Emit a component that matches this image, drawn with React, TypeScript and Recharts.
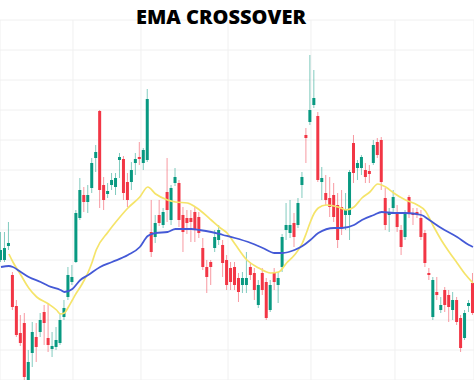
import React from 'react';
import { ComposedChart, Bar, Line, XAxis, YAxis, CartesianGrid } from 'recharts';

// Candle prices (one entry per trading session)
const opens = [
  140, 140, 154, 125, 94, 67, 77, 20, 47, 63, 68, 88, 62, 51, 53, 57, 83, 103, 118, 138,
  182, 205, 198, 212, 242, 289, 215, 206, 215, 213, 240, 241, 218, 218, 237, 243, 237, 240, 168, 163,
  185, 175, 208, 180, 217, 217, 185, 182, 182, 188, 183, 152, 133, 138, 152, 160, 155, 140, 132, 133,
  122, 115, 115, 133, 127, 95, 127, 118, 90, 127, 115, 133, 170, 167, 177, 175, 215, 265, 278, 295,
  284, 218, 207, 202, 205, 195, 193, 185, 185, 257, 232, 232, 230, 229, 237, 258, 260, 202, 185, 192,
  187, 170, 163, 203, 187, 188, 182, 167, 127, 83, 108, 90, 110, 105, 90, 100, 82, 62, 94, 117,
];
const closes = [
  150, 152, 157, 93, 65, 57, 23, 38, 68, 53, 80, 77, 55, 54, 60, 80, 92, 125, 123, 187,
  210, 198, 205, 237, 248, 210, 200, 209, 220, 222, 243, 207, 200, 230, 241, 241, 250, 301, 148, 177,
  177, 188, 190, 212, 223, 180, 168, 177, 178, 170, 167, 133, 123, 133, 163, 170, 137, 115, 118, 115,
  108, 122, 122, 125, 110, 115, 110, 82, 115, 118, 122, 163, 175, 175, 163, 197, 223, 262, 290, 302,
  220, 222, 200, 193, 183, 160, 172, 190, 228, 227, 237, 243, 223, 226, 255, 245, 218, 175, 188, 203,
  173, 153, 187, 187, 185, 185, 163, 137, 125, 120, 105, 95, 95, 93, 100, 78, 52, 87, 97, 87,
];
const highs = [
  168, 168, 178, 128, 100, 85, 87, 50, 78, 77, 87, 95, 97, 68, 73, 87, 100, 133, 135, 190,
  222, 213, 215, 242, 255, 290, 223, 217, 227, 227, 247, 244, 227, 238, 247, 258, 252, 311, 200, 185,
  200, 192, 242, 215, 232, 220, 193, 190, 190, 193, 188, 162, 140, 140, 170, 175, 160, 145, 138, 138,
  127, 128, 148, 138, 132, 120, 132, 122, 120, 132, 128, 166, 197, 200, 187, 202, 228, 272, 345, 330,
  288, 233, 225, 223, 217, 207, 210, 207, 230, 265, 240, 245, 237, 235, 260, 262, 263, 212, 192, 210,
  195, 175, 190, 205, 192, 192, 190, 170, 132, 123, 123, 103, 113, 110, 108, 103, 85, 90, 100, 127,
];
const lows = [
  138, 138, 150, 90, 63, 54, 20, 18, 33, 38, 63, 55, 48, 43, 50, 55, 80, 100, 115, 137,
  180, 188, 187, 207, 228, 192, 190, 202, 210, 205, 222, 200, 193, 210, 225, 235, 230, 238, 143, 157,
  174, 172, 178, 175, 214, 173, 148, 166, 158, 158, 162, 130, 107, 115, 148, 155, 123, 110, 110, 110,
  98, 107, 107, 120, 100, 92, 105, 80, 88, 110, 97, 128, 160, 162, 153, 172, 202, 237, 275, 292,
  218, 200, 195, 183, 178, 152, 165, 170, 160, 217, 220, 225, 217, 217, 235, 242, 210, 170, 168, 188,
  168, 145, 160, 182, 175, 182, 160, 133, 120, 80, 100, 87, 88, 78, 80, 75, 48, 60, 88, 85,
];

// Fast EMA (yellow) and slow EMA (blue), read at [session, value]
const emaFast: [number, number][] = [
  [2, 146], [3, 138], [5, 125], [7, 112], [9, 103], [12, 96], [14, 90], [15, 86], [16, 87], [17, 93],
  [18, 100], [19, 107], [20, 113], [21, 120], [22, 128], [23, 138], [24, 150], [27, 168], [30, 183],
  [32, 192], [35, 203], [37, 213], [39, 206], [42, 200], [44, 198], [47, 197], [49, 193], [51, 187],
  [53, 180], [55, 173], [57, 167], [59, 156], [62, 140], [65, 132], [68, 127], [70, 128], [72, 137],
  [74, 145], [76, 157], [77, 167], [78, 178], [79, 187], [80, 192], [82, 195], [85, 193], [87, 190],
  [89, 193], [91, 202], [93, 208], [95, 216], [97, 213], [99, 207], [102, 200], [105, 195], [107, 189],
  [109, 174], [111, 160], [113, 148], [115, 137], [117, 126], [119, 117],
];
const emaSlow: [number, number][] = [
  [0, 133], [2, 134], [3, 133], [5, 128], [7, 123], [10, 118], [12, 114], [15, 110], [16, 108], [18, 111],
  [20, 120], [22, 125], [25, 133], [28, 138], [32, 145], [35, 153], [37, 164], [39, 167], [42, 168],
  [44, 171], [48, 171], [50, 170], [53, 168], [56, 165], [59, 162], [63, 157], [66, 152], [69, 147],
  [71, 147], [74, 150], [76, 154], [78, 160], [80, 167], [84, 172], [86, 172], [89, 175], [91, 180],
  [94, 185], [96, 188], [99, 187], [102, 187], [106, 185], [108, 180], [111, 172], [115, 163], [118, 155],
  [119, 153],
];

const gridSessions = [18.15, 35.3, 57.24, 78.16, 99.34];
const gridPrices = [50, 80, 110, 140, 170, 200, 230, 260, 290, 320, 350];

const COLORS = {
  up: '#089981',
  down: '#f23645',
  fast: '#f5e46a',
  slow: '#4459d6',
  grid: '#f0f0f0',
};

const fastMap = new Map(emaFast);
const slowMap = new Map(emaSlow);

const data = opens.map((open, i) => ({
  i,
  open,
  close: closes[i],
  high: highs[i],
  low: lows[i],
  range: [lows[i], highs[i]],
  fast: fastMap.has(i) ? fastMap.get(i) : null,
  slow: slowMap.has(i) ? slowMap.get(i) : null,
}));

function Candle(props: any) {
  const { x, y, width, height, payload } = props;
  if (!payload || x == null) return null;
  const { open, close, high, low } = payload;
  const color = close >= open ? COLORS.up : COLORS.down;
  const h = Math.abs(height);
  const top = height < 0 ? y + height : y;
  const ratio = h / (high - low || 1);
  const bodyTop = top + (high - Math.max(open, close)) * ratio;
  const bodyH = Math.max(Math.abs(open - close) * ratio, 1.2);
  const cx = x + width / 2;
  return (
    <g>
      <line x1={cx} x2={cx} y1={top} y2={top + h} stroke={color} strokeOpacity={0.5} strokeWidth={1} />
      <rect x={x} y={bodyTop} width={width} height={bodyH} fill={color} />
    </g>
  );
}

export default function App() {
  return (
    <div style={{ position: 'absolute', left: 0, top: 0, width: 474, height: 380, background: '#fff', overflow: 'hidden' }}>
      <ComposedChart width={474} height={380} data={data} margin={{ top: 20, right: 0, bottom: 0, left: 0 }}>
        <CartesianGrid stroke={COLORS.grid} strokeWidth={1} />
        <XAxis dataKey="i" type="number" domain={[-0.25, 119.26]} ticks={gridSessions} allowDataOverflow hide />
        <YAxis type="number" domain={[20, 380]} ticks={gridPrices} allowDataOverflow hide />
        <Bar dataKey="range" barSize={3} shape={Candle} isAnimationActive={false} />
        <Line type="monotone" dataKey="fast" stroke={COLORS.fast} strokeWidth={1.7} dot={false} activeDot={false} connectNulls isAnimationActive={false} />
        <Line type="monotone" dataKey="slow" stroke={COLORS.slow} strokeWidth={1.8} dot={false} activeDot={false} connectNulls isAnimationActive={false} />
      </ComposedChart>
      <div
        style={{
          position: 'absolute',
          top: 7,
          left: 0,
          width: 442,
          textAlign: 'center',
          fontFamily: '"Open Sans", sans-serif',
          fontWeight: 800,
          fontSize: 20,
          lineHeight: '20px',
          color: '#000',
        }}
      >
        EMA CROSSOVER
      </div>
    </div>
  );
}
